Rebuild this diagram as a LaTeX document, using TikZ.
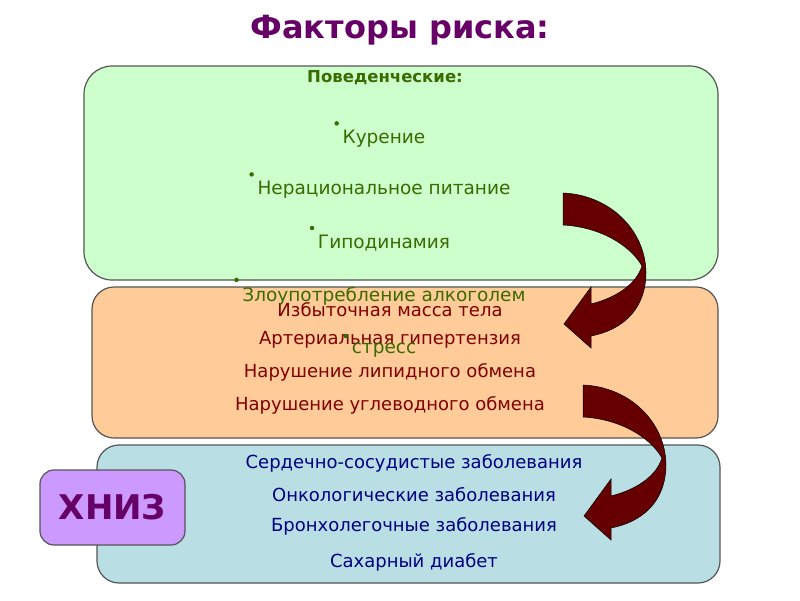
\documentclass[tikz,border=0pt]{standalone}
\usepackage{fontspec}
\setmainfont{DejaVu Sans}
\usepackage{tikz}
\usetikzlibrary{positioning,calc}
\usepackage{xcolor}
\definecolor{cplum}{HTML}{660066}
\definecolor{cleaf}{HTML}{3A6B00}
\definecolor{cwine}{HTML}{800000}
\definecolor{cnavy}{HTML}{000080}
\definecolor{cframe}{HTML}{555555}
\definecolor{washgreen}{HTML}{CCFFCC}
\definecolor{washpeach}{HTML}{FFCC99}
\definecolor{washblue}{HTML}{B9DFE4}
\definecolor{washlilac}{HTML}{CC99FF}
\definecolor{carrow}{HTML}{660000}

\tikzset{
  pics/twistarrow/.style={code={
    \draw[black, line width=0.5pt, fill=carrow]
      (0,0) .. controls (47,2) and (82,37) .. (83,79)
      .. controls (83,117) and (59,137) .. (28,143)
      -- (28,155) -- (1,131) -- (28,94) -- (28,111)
      .. controls (52,105) and (73,92) .. (79,73)
      .. controls (67,52) and (37,34) .. (0,32) -- cycle;
  }}
}

\begin{document}
\begin{tikzpicture}[
  x=1pt, y=-1pt,
  panel/.style={draw=cframe, line width=1.2pt, rounded corners=22pt, inner sep=0pt},
  behtext/.style={text=cleaf, font=\fontsize{18.5}{20}\selectfont, inner sep=1pt},
  riskline/.style={text=cwine, font=\fontsize{18}{20}\selectfont, inner sep=1pt},
  disline/.style={text=cnavy, font=\fontsize{18}{20}\selectfont, inner sep=1pt},
  dot/.style={circle, fill=cleaf, inner sep=0pt, minimum size=4.5pt},
]
\useasboundingbox (0,0) rectangle (800,600);
% ---------- title ----------
\node[text=cplum, font=\fontsize{32}{36}\selectfont\bfseries] (title) at (400,30) {Факторы риска:};
% ---------- panels ----------
\node[panel, fill=washgreen, minimum width=634pt, minimum height=214pt, rounded corners=28pt] (behave) at (401,173) {};
\node[panel, fill=washpeach, minimum width=626pt, minimum height=151pt] (risk) at (405,362.5) {};
\node[panel, fill=washblue, minimum width=623pt, minimum height=138pt] (disease) at (408.5,514) {};
\node[panel, fill=washlilac, minimum width=145pt, minimum height=75pt, rounded corners=14pt,
      text=cplum, font=\fontsize{34}{36}\selectfont\bfseries] (xniz) at (112.5,507.5) {ХНИЗ};
% ---------- risk factors (peach) ----------
\foreach \y/\lab [count=\i] in {310/Избыточная масса тела, 340/Артериальная гипертензия,
    372/Нарушение липидного обмена, 405/Нарушение углеводного обмена}{
  \node[riskline] (r\i) at (390,\y) {\lab};
}
% ---------- behavioural list (green, runs over the peach panel) ----------
\node[text=cleaf, font=\fontsize{16.5}{18}\selectfont\bfseries] (behhead) at (385,78) {Поведенческие:};
\foreach \y/\lab [count=\i] in {139/Курение, 190/Нерациональное питание, 243/Гиподинамия,
    296/Злоупотребление алкоголем, 350/стресс}{
  \node[behtext] (b\i) at (384,\y) {\lab};
  \node[dot, above left=4pt and 3pt of b\i.north west] (d\i) {};
}
% ---------- diseases (blue) ----------
\foreach \y/\lab [count=\i] in {463/Сердечно-сосудистые заболевания, 495/Онкологические заболевания,
    526/Бронхолегочные заболевания, 562/Сахарный диабет}{
  \node[disline] (c\i) at (414,\y) {\lab};
}
% ---------- twisted arrows ----------
\pic at (563,193) {twistarrow};
\pic at (583,385) {twistarrow};
\end{tikzpicture}
\end{document}
